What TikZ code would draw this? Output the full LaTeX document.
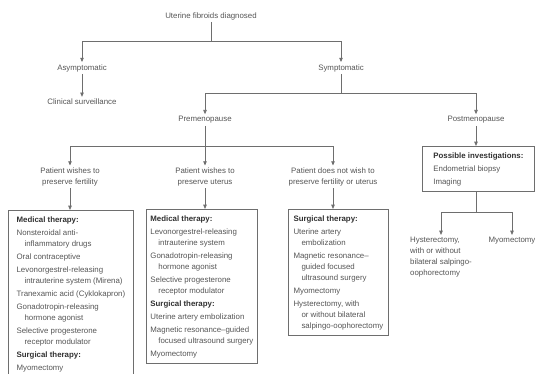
\documentclass[tikz,border=0pt]{standalone}
\usepackage{fontspec}
\setmainfont{Liberation Sans}
\usepackage{xcolor}
\usepackage{tikz}
\usetikzlibrary{arrows.meta}
\definecolor{linegray}{HTML}{6E6E6E}
\definecolor{textgray}{HTML}{555555}
\definecolor{headgray}{HTML}{303030}
\newcommand{\thead}[1]{\textcolor{headgray}{\textbf{#1}}}

\begin{document}
\begin{tikzpicture}[x=0.75pt, y=-0.75pt,
  every node/.style={font=\fontsize{5.9}{8.25}\selectfont, text=textgray, inner sep=1.5pt},
  txt/.style={align=center},
  therapy/.style={draw=linegray, line width=0.6pt, anchor=north west, align=left,
    inner xsep=3pt, inner ysep=4.5pt},
  line/.style={draw=linegray, line width=0.6pt},
  arrow/.style={-{Triangle[length=3.2pt,width=2.6pt]}, draw=linegray, line width=0.6pt}
]
\clip (0,0) rectangle (535,374);

% Top levels
\node (top) at (211,16) {Uterine fibroids diagnosed};
\node (asym) at (82,68) {Asymptomatic};
\node (surv) at (82,102) {Clinical surveillance};
\node (sympt) at (341,68) {Symptomatic};
\node (pre) at (205,120) {Premenopause};
\node (post) at (476,120) {Postmenopause};

% Patient wishes
\node[txt] (fert) at (70,177) {Patient wishes to\\preserve fertility};
\node[txt] (uter) at (205,177) {Patient wishes to\\preserve uterus};
\node[txt] (nowish) at (333,177) {Patient does not wish to\\preserve fertility or uterus};

% Therapy boxes
\node[therapy, minimum width=93.75pt] (fertbox) at (8,210) {\thead{Medical therapy:}\\[1.5pt]
  Nonsteroidal anti-\\\hspace*{6pt}inflammatory drugs\\[1.5pt]
  Oral contraceptive\\[1.5pt]
  Levonorgestrel-releasing\\\hspace*{6pt}intrauterine system (Mirena)\\[1.5pt]
  Tranexamic acid (Cyklokapron)\\[1.5pt]
  Gonadotropin-releasing\\\hspace*{6pt}hormone agonist\\[1.5pt]
  Selective progesterone\\\hspace*{6pt}receptor modulator\\[1.5pt]
  \thead{Surgical therapy:}\\[1.5pt]
  Myomectomy\\[4pt]\mbox{}};
\node[therapy, minimum width=82.5pt] (uterbox) at (146,209) {\thead{Medical therapy:}\\[1.5pt]
  Levonorgestrel-releasing\\\hspace*{6pt}intrauterine system\\[1.5pt]
  Gonadotropin-releasing\\\hspace*{6pt}hormone agonist\\[1.5pt]
  Selective progesterone\\\hspace*{6pt}receptor modulator\\[1.5pt]
  \thead{Surgical therapy:}\\[1.5pt]
  Uterine artery embolization\\[1.5pt]
  Magnetic resonance--guided\\\hspace*{6pt}focused ultrasound surgery\\[1.5pt]
  Myomectomy};
\node[therapy, minimum width=75pt] (surgbox) at (288,209) {\thead{Surgical therapy:}\\[1.5pt]
  Uterine artery\\\hspace*{6pt}embolization\\[1.5pt]
  Magnetic resonance--\\\hspace*{6pt}guided focused\\\hspace*{6pt}ultrasound surgery\\[1.5pt]
  Myomectomy\\[1.5pt]
  Hysterectomy, with\\\hspace*{6pt}or without bilateral\\\hspace*{6pt}salpingo-oophorectomy};
\node[therapy, minimum width=84pt] (invbox) at (422,146) {\thead{Possible investigations:}\\[1.5pt]
  Endometrial biopsy\\[1.5pt]
  Imaging};

% Postmenopause outcomes
\node[anchor=north, align=left] (hyst) at (441,235) {Hysterectomy,\\with or without\\bilateral salpingo-\\oophorectomy};
\node[anchor=north] (myo) at (512,235) {Myomectomy};

% Junctions
\coordinate (j1) at (211,41);
\coordinate (j2) at (341,93);
\coordinate (j3) at (205,146);
\coordinate (j4) at (476,212);

% Arrows
\draw[line] (top) -- (j1);
\draw[arrow] (j1) -| (asym);
\draw[arrow] (j1) -| (sympt);
\draw[arrow] (asym) -- (surv);
\draw[line] (sympt) -- (j2);
\draw[arrow] (j2) -| (pre);
\draw[arrow] (j2) -| (post);
\draw[line] (pre) -- (j3);
\draw[arrow] (j3) -| (fert);
\draw[arrow] (j3) -- (uter);
\draw[arrow] (j3) -| (nowish);
\draw[arrow] (fert) -- (fert |- fertbox.north);
\draw[arrow] (uter) -- (uter |- uterbox.north);
\draw[arrow] (nowish) -- (nowish |- surgbox.north);
\draw[arrow] (post) -- (post |- invbox.north);
\draw[line] (j4 |- invbox.south) -- (j4);
\draw[arrow] (j4) -| (hyst);
\draw[arrow] (j4) -| (myo);

\end{tikzpicture}
\end{document}
